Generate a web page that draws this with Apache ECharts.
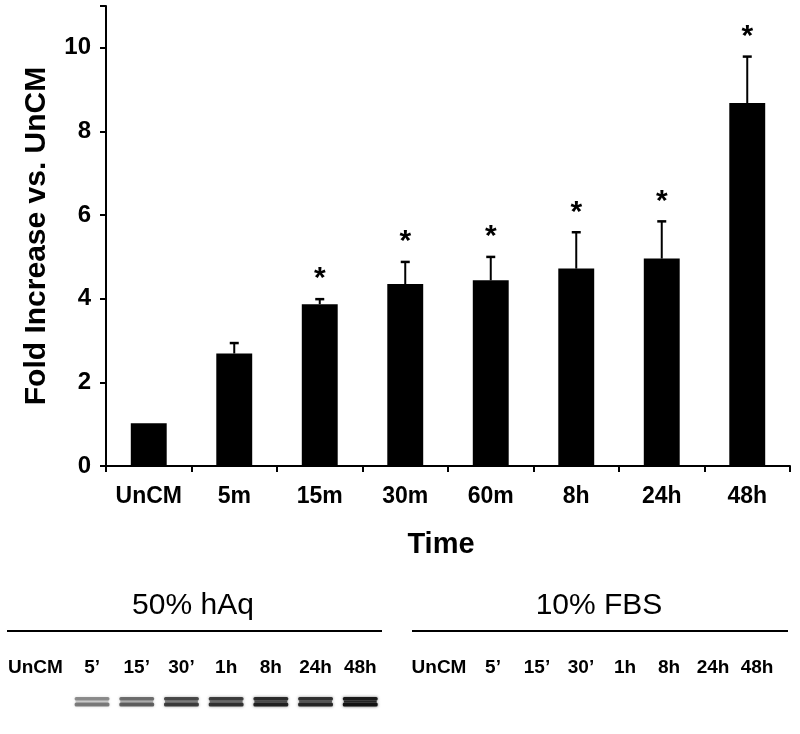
<!DOCTYPE html>
<html><head><meta charset="utf-8">
<script src="https://cdn.jsdelivr.net/npm/echarts@6/dist/echarts.min.js"></script>
<style>html,body{margin:0;padding:0;background:#fff}#c{width:800px;height:734px}</style>
</head><body><div id="c"></div>
<script>
// ---- data ----
const categories = ['UnCM', '5m', '15m', '30m', '60m', '8h', '24h', '48h'];
const foldIncrease = [1.02, 2.69, 3.87, 4.35, 4.44, 4.72, 4.96, 8.68];
const errorUpper = [0, 0.25, 0.12, 0.53, 0.56, 0.87, 0.89, 1.11];
const significant = [false, false, true, true, true, true, true, true];
const yMin = 0, yMax = 11, yInterval = 2;
const laneLabels = ['UnCM', '5\u2019', '15\u2019', '30\u2019', '1h', '8h', '24h', '48h'];
const hAqBandIntensity = [0, 0.42, 0.55, 0.72, 0.78, 0.88, 0.85, 1.0];
const fbsBandIntensity = [0, 0, 0, 0, 0, 0, 0, 0];
const panelTitles = ['50% hAq', '10% FBS'];

const FONT = '"Liberation Sans", Arial, Helvetica, sans-serif';
const chart = echarts.init(document.getElementById('c'), null, {renderer: 'canvas'});

function laneAxisData(pad) {
  return laneLabels.map((l, i) => i === 0 ? {value: l, textStyle: {padding: [0, pad, 0, 0]}} : l);
}

function bandRender(params, api) {
  const i = api.value(0), v = api.value(1);
  if (!(v > 0)) return;
  const c = api.coord([i, 0.5]);
  const w = api.size([1, 0])[0] * 0.78;
  const x = c[0] - w / 2;
  const col = a => 'rgba(15,15,15,' + Math.min(1, a).toFixed(3) + ')';
  const aTop = 0.08 + 0.85 * v, aBot = 0.14 + 0.84 * v, aGap = v * v * 0.88;
  return {
    type: 'group',
    children: [
      {type: 'rect', shape: {x: x, y: c[1] - 5, width: w, height: 3.5, r: 1.5},
        style: {fill: col(aTop), shadowBlur: 3, shadowColor: col(aTop * 0.7)}},
      {type: 'rect', shape: {x: x + 1, y: c[1] - 1.5, width: w - 2, height: 2},
        style: {fill: col(aGap)}},
      {type: 'rect', shape: {x: x, y: c[1] + 0.5, width: w, height: 4, r: 1.5},
        style: {fill: col(aBot), shadowBlur: 3, shadowColor: col(aBot * 0.7)}}
    ]
  };
}

const laneAxisCommon = {
  type: 'category', position: 'top', boundaryGap: true,
  axisLine: {show: false}, axisTick: {show: false}, splitLine: {show: false},
  axisLabel: {fontFamily: FONT, fontWeight: 'bold', fontSize: 19, color: '#000', margin: 13, interval: 0}
};

const option = {
  backgroundColor: '#fff',
  animation: false,
  grid: [
    {left: 106, right: 10, top: 6, bottom: 268},
    {left: 25, top: 690, width: 357.6, height: 24},
    {left: 427, top: 690, width: 352, height: 24}
  ],
  xAxis: [
    {
      type: 'category', gridIndex: 0, data: categories,
      name: 'Time', nameLocation: 'middle', nameGap: 64,
      nameTextStyle: {fontFamily: FONT, fontWeight: 'bold', fontSize: 29, color: '#000', padding: [0, 14, 0, 0]},
      axisLine: {lineStyle: {color: '#000', width: 2}},
      axisTick: {show: true, length: 6, lineStyle: {color: '#000', width: 2}},
      axisLabel: {fontFamily: FONT, fontWeight: 'bold', fontSize: 23, color: '#000', margin: 19, interval: 0},
      splitLine: {show: false}
    },
    Object.assign({gridIndex: 1, data: laneAxisData(24)}, laneAxisCommon),
    Object.assign({gridIndex: 2, data: laneAxisData(20)}, laneAxisCommon)
  ],
  yAxis: [
    {
      type: 'value', gridIndex: 0, min: yMin, max: yMax, interval: yInterval,
      name: 'Fold Increase vs. UnCM', nameLocation: 'middle', nameGap: 54,
      nameTextStyle: {fontFamily: FONT, fontWeight: 'bold', fontSize: 30, color: '#000'},
      axisLine: {show: true, lineStyle: {color: '#000', width: 2}},
      axisTick: {show: true, length: 6, lineStyle: {color: '#000', width: 2}},
      axisLabel: {fontFamily: FONT, fontWeight: 'bold', fontSize: 24, color: '#000', margin: 15,
        formatter: v => (v % 2 === 0 ? String(v) : '')},
      splitLine: {show: false}
    },
    {type: 'value', gridIndex: 1, min: 0, max: 1, show: false},
    {type: 'value', gridIndex: 2, min: 0, max: 1, show: false}
  ],
  series: [
    {
      type: 'bar', xAxisIndex: 0, yAxisIndex: 0, data: foldIncrease,
      barWidth: '42%', itemStyle: {color: '#000'}, silent: true
    },
    {
      type: 'custom', xAxisIndex: 0, yAxisIndex: 0, silent: true, z: 3,
      data: categories.map((c, i) => [i, foldIncrease[i], errorUpper[i]]),
      renderItem: function (params, api) {
        const i = api.value(0), m = api.value(1), e = api.value(2);
        if (!(e > 0)) return;
        const p0 = api.coord([i, m]), p1 = api.coord([i, m + e]);
        return {
          type: 'group', children: [
            {type: 'line', shape: {x1: p0[0], y1: p0[1], x2: p1[0], y2: p1[1]}, style: {stroke: '#000', lineWidth: 2}},
            {type: 'line', shape: {x1: p1[0] - 4.5, y1: p1[1], x2: p1[0] + 4.5, y2: p1[1]}, style: {stroke: '#000', lineWidth: 2.5}}
          ]
        };
      }
    },
    {
      type: 'custom', xAxisIndex: 0, yAxisIndex: 0, silent: true, z: 4,
      data: categories.map((c, i) => [i, foldIncrease[i] + errorUpper[i], significant[i] ? 1 : 0]),
      renderItem: function (params, api) {
        if (!api.value(2)) return;
        const p = api.coord([api.value(0), api.value(1)]);
        return {
          type: 'text', x: p[0], y: p[1] - 5,
          style: {text: '*', font: 'bold 30px ' + FONT, fill: '#000', align: 'center', verticalAlign: 'bottom'}
        };
      }
    },
    {
      type: 'custom', xAxisIndex: 1, yAxisIndex: 1, silent: true,
      data: hAqBandIntensity.map((v, i) => [i, v]), renderItem: bandRender
    },
    {
      type: 'custom', xAxisIndex: 2, yAxisIndex: 2, silent: true,
      data: fbsBandIntensity.map((v, i) => [i, v]), renderItem: bandRender
    }
  ],
  graphic: [
    {type: 'text', x: 193, y: 606, style: {text: panelTitles[0], font: '30px ' + FONT, fill: '#000', align: 'center', verticalAlign: 'middle'}},
    {type: 'line', shape: {x1: 7, y1: 631, x2: 382, y2: 631}, style: {stroke: '#000', lineWidth: 2}},
    {type: 'text', x: 599, y: 606, style: {text: panelTitles[1], font: '30px ' + FONT, fill: '#000', align: 'center', verticalAlign: 'middle'}},
    {type: 'line', shape: {x1: 412, y1: 631, x2: 788, y2: 631}, style: {stroke: '#000', lineWidth: 2}}
  ]
};
chart.setOption(option);
</script>
</body></html>
